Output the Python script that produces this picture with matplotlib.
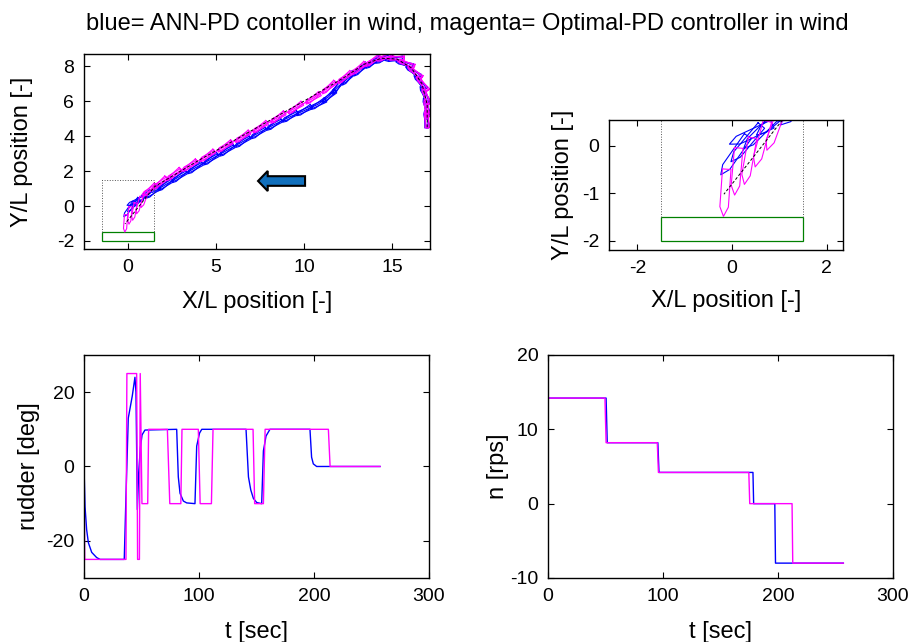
import numpy as np
import matplotlib.pyplot as plt
from matplotlib.patches import FancyArrow, Rectangle

plt.rcParams['font.family'] = ['Liberation Sans', 'DejaVu Sans']
plt.rcParams['axes.unicode_minus'] = False

BLUE = "#0000ff"
MAGENTA = "#ff00ff"
GREEN = "#008000"

# ship CG tracks (start at the right, end at the berth)
mag_x = [16.97, 16.97, 16.92, 16.72, 16.3, 15.8, 15.2, 14.6, 13.9, 13.1, 12.3, 11.4,
         10.5, 9.5, 8.5, 7.5, 6.5, 5.5, 4.5, 3.5, 2.6, 1.8, 1.2]
mag_y = [4.97, 5.6, 6.3, 7.0, 7.65, 8.15, 8.45, 8.52, 8.3, 7.86, 7.34, 6.77,
         6.15, 5.6, 5.05, 4.5, 3.95, 3.4, 2.86, 2.3, 1.8, 1.3, 0.9]
blue_x = [16.95, 16.95, 16.85, 16.6, 16.2, 15.7, 15.1, 14.5, 13.9, 13.2, 12.5, 11.9,
          11.4, 10.8, 10.0, 9.2, 8.3, 7.4, 6.5, 5.6, 4.7, 3.8, 2.9, 2.1, 1.4]
blue_y = [4.97, 5.7, 6.4, 7.1, 7.7, 8.15, 8.4, 8.42, 8.2, 7.8, 7.3, 6.8,
          6.25, 5.82, 5.45, 5.1, 4.65, 4.17, 3.67, 3.17, 2.67, 2.17, 1.67, 1.2, 0.78]

# final approach hull poses (x, y, heading deg)
mag_fx = [0.91, 0.62, 0.35, 0.10, -0.145]
mag_fy = [0.38, 0.04, -0.32, -0.54, -0.99]
mag_fpsi = [-110, -105, -100, -95, -94]
blue_fx = [0.9, 0.6, 0.4, 0.3, 0.05]
blue_fy = [0.55, 0.3, 0.25, 0.05, -0.2]
blue_fpsi = [-140, -135, -155, -130, -125]

# reference path
ref_x = [17.0, 17.0, 16.7, 16.1, 15.3, 14.4, 13.4, 12.2, 10.0, 7.0, 4.0, 1.5, 0.4, -0.17]
ref_y = [4.5, 5.8, 7.0, 7.9, 8.4, 8.45, 8.1, 7.3, 6.0, 4.3, 2.6, 1.1, -0.3, -1.02]

# rudder angle [deg]
blue_rud_t = [0, 0.9, 2.3, 3.8, 6.7, 11, 14, 35, 36.5, 38.5, 42, 44.3, 45.2, 46.4, 47.5, 49, 50.5,
              53, 80.6, 82, 83.5, 86.4, 89.3, 96.5, 98, 100.5, 102.4, 140.9, 143, 145, 147.3,
              150.2, 154.5, 156, 158.3, 161.7, 196.5, 197.9, 199.4, 202.3, 257.4]
blue_rud = [0, -10.8, -17, -20.5, -23.1, -24.5, -25, -25, -8, 13, 19, 24, 20, -11.6, -2, 5, 8.5,
            9.8, 10, -2.8, -7.2, -9.3, -9.8, -10, 5.5, 9, 10, 10, -2.8, -6.3, -8.6,
            -9.7, -10, 4.2, 8.2, 10, 10, 2.5, 0.7, 0, 0]
mag_rud_t = [0, 0.6, 36.5, 37.3, 45.8, 46.6, 48.2, 48.9, 50.4, 55.4, 56.2, 72.5, 74.6, 84.2, 85.2,
             99.4, 101, 110.8, 112.2, 147, 148.4, 156, 157.5, 212.5, 214, 257.4]
mag_rud = [0, -25, -25, 25, 25, -25, -25, 25, -10, -10, 10, 10, -10, -10, 10,
           10, -10, -10, 10, 10, -10, -10, 10, 10, 0, 0]

# propeller revolutions [rps]
blue_n_t = [0, 50.5, 51.5, 95.5, 96.5, 178.2, 178.8, 197.2, 197.8, 256.8]
blue_n = [14.2, 14.2, 8.2, 8.2, 4.2, 4.2, 0, 0, -8, -8]
mag_n_t = [0, 49.5, 50.5, 95.0, 96.0, 174.6, 175.4, 212.2, 212.8, 256.8]
mag_n = [14.2, 14.2, 8.2, 8.2, 4.2, 4.2, 0, 0, -8, -8]

HULL_X = np.array([-0.5, 0.3, 0.5, 0.3, -0.5, -0.5])
HULL_Y = np.array([-0.09, -0.09, 0.0, 0.09, 0.09, -0.09])
DRIFT = np.deg2rad(11)


def hull(ax, x, y, psi, color):
    c, s = np.cos(psi), np.sin(psi)
    ax.plot(x + c * HULL_X - s * HULL_Y, y + s * HULL_X + c * HULL_Y, color=color, lw=0.8)


def draw_track(ax, px, py, fx, fy, fpsi, color):
    px, py = np.array(px), np.array(py)
    psi = np.arctan2(np.diff(py), np.diff(px))
    psi = np.append(psi, psi[-1])
    for x, y, p in zip(px, py, psi):
        hull(ax, x, y, p, color)
        hull(ax, x, y, p + DRIFT, color)
    ax.plot(px, py, color=color, lw=0.8)
    for x, y, p in zip(fx, fy, fpsi):
        hull(ax, x, y, np.deg2rad(p), color)


def trajectory(ax):
    draw_track(ax, blue_x, blue_y, blue_fx, blue_fy, blue_fpsi, BLUE)
    draw_track(ax, mag_x, mag_y, mag_fx, mag_fy, mag_fpsi, MAGENTA)
    ax.plot(ref_x, ref_y, color="k", lw=0.7, ls=(0, (3, 2)))
    ax.plot([-1.5, -1.5, 1.5, 1.5], [-1.5, 1.5, 1.5, -1.5], color="#555555", lw=0.7, ls=":")
    ax.add_patch(Rectangle((-1.5, -2.0), 3.0, 0.5, fill=False, ec=GREEN, lw=0.9))


def style(ax, xlabel, ylabel, xpad, ypad):
    ax.tick_params(direction="in", top=True, right=True, length=4, width=0.8,
                   labelsize=14, pad=7)
    for sp in ax.spines.values():
        sp.set_linewidth(1.0)
    ax.set_xlabel(xlabel, fontsize=17, labelpad=xpad)
    ax.set_ylabel(ylabel, fontsize=17, labelpad=ypad)


fig = plt.figure(figsize=(9.12, 6.42), dpi=100)

ax1 = fig.add_axes([0.0921, 0.6121, 0.3794, 0.3037])
trajectory(ax1)
ax1.add_patch(FancyArrow(10.06, 1.43, -2.67, 0, width=0.55, head_width=1.15, head_length=0.55,
                         length_includes_head=True, fc="#1170bd", ec="k", lw=1.5))
ax1.set_xlim(-2.5, 17.16)
ax1.set_ylim(-2.46, 8.69)
ax1.set_xticks([0, 5, 10, 15])
ax1.set_yticks([-2, 0, 2, 4, 6, 8])
style(ax1, "X/L position [-]", "Y/L position [-]", 11, 17)

ax2 = fig.add_axes([0.6678, 0.6106, 0.2566, 0.2025])
trajectory(ax2)
ax2.set_xlim(-2.6, 2.35)
ax2.set_ylim(-2.2, 0.55)
ax2.set_xticks([-2, 0, 2])
ax2.set_yticks([-2, -1, 0])
style(ax2, "X/L position [-]", "Y/L position [-]", 9.5, 6)

ax3 = fig.add_axes([0.0921, 0.0997, 0.3783, 0.3474])
ax3.plot(blue_rud_t, blue_rud, color=BLUE, lw=1.0)
ax3.plot(mag_rud_t, mag_rud, color=MAGENTA, lw=1.0)
ax3.set_xlim(0, 300)
ax3.set_ylim(-30, 30)
ax3.set_xticks([0, 100, 200, 300])
ax3.set_yticks([-20, 0, 20])
style(ax3, "t [sec]", "rudder [deg]", 11.5, 4.5)

ax4 = fig.add_axes([0.6009, 0.0997, 0.3783, 0.3474])
ax4.plot(blue_n_t, blue_n, color=BLUE, lw=1.0)
ax4.plot(mag_n_t, mag_n, color=MAGENTA, lw=1.0)
ax4.set_xlim(0, 300)
ax4.set_ylim(-10, 20)
ax4.set_xticks([0, 100, 200, 300])
ax4.set_yticks([-10, 0, 10, 20])
style(ax4, "t [sec]", "n [rps]", 11.5, 1)

fig.text(0.512, 0.962, "blue= ANN-PD contoller in wind, magenta= Optimal-PD controller in wind",
         ha="center", va="center", fontsize=17)

fig.savefig("out.png", dpi=100)
